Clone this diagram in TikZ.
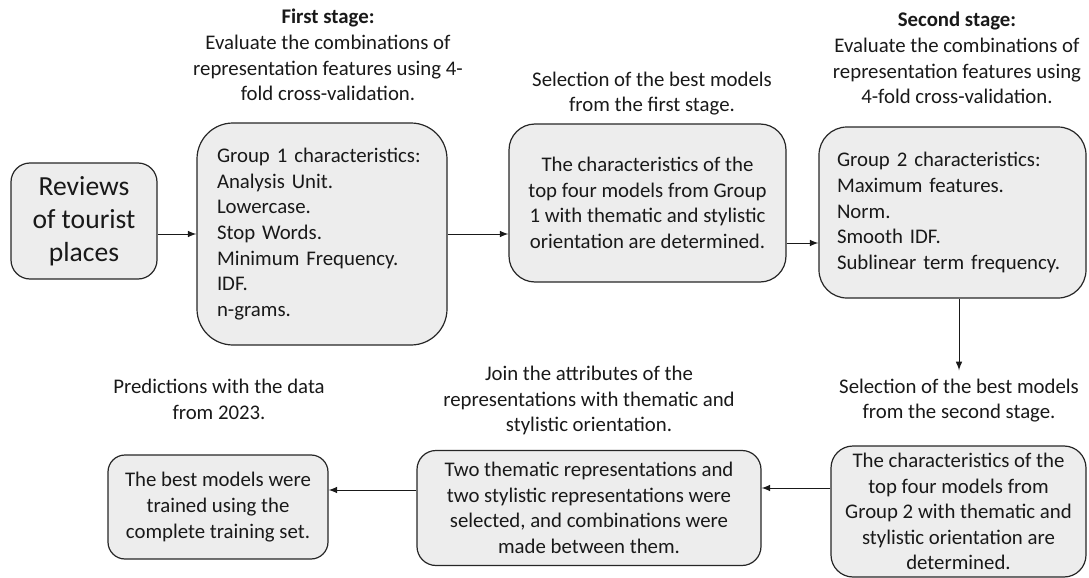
\documentclass[tikz,border=0pt]{standalone}
\usepackage{fontspec}
\setmainfont{Carlito}
\usetikzlibrary{arrows}
\usetikzlibrary{calc}
\usetikzlibrary{positioning}

\begin{document}
\begin{tikzpicture}
	 [> = latex,
	x=0.5pt, y=-0.5pt,
	every node/.style={font=\fontsize{10.4}{12.8}\selectfont, text=black!90},
	box/.style = {draw=black!85, fill=black!7, line width=0.6pt, inner sep=0pt},
	note/.style = {align=center, inner sep=0pt},
	link/.style = {->, line width=0.5pt, draw=black!90}
	]
	\useasboundingbox (0,0) rectangle (1089,578);

	\node[box, rounded corners=9.5pt, minimum width=73pt, minimum height=58pt, align=center, font=\fontsize{13.8}{16.5}\selectfont] (reviews) at (84,221) {Reviews\\of tourist\\places};
	\node[box, rounded corners=18pt, text width=105pt, inner xsep=10pt, minimum height=111pt, align=left] (group1) at (322,234) {Group 1 characteristics:\\Analysis Unit.\\Lowercase.\\Stop Words.\\Minimum Frequency.\\IDF.\\n-grams.};
	\node[box, rounded corners=13pt, minimum width=138.5pt, minimum height=79pt, align=center] (best1) at (647.5,203) {The characteristics of the\\top four models from Group\\1 with thematic and stylistic\\orientation are determined.};
	\node[box, rounded corners=14pt, text width=115.5pt, inner xsep=9pt, minimum height=85.5pt, align=left] (group2) at (952.5,212.5) {Group 2 characteristics:\\Maximum features.\\Norm.\\Smooth IDF.\\Sublinear term frequency.};
	\node[box, rounded corners=11pt, minimum width=127.5pt, minimum height=65.5pt, align=center] (best2) at (958.5,511.5) {The characteristics of the\\top four models from\\Group 2 with thematic and\\stylistic orientation are\\determined.};
	\node[box, rounded corners=9.5pt, minimum width=172pt, minimum height=57.5pt, align=center] (combo) at (589,508) {Two thematic representations and\\two stylistic representations were\\selected, and combinations were\\made between them.};
	\node[box, rounded corners=8.5pt, minimum width=110pt, minimum height=52pt, align=center] (final) at (218,507) {The best models were\\trained using the\\complete training set.};

	\node[note] (stage1) at (328,55) {\textbf{First stage:}\\Evaluate the combinations of\\representation features using 4-\\fold cross-validation.};
	\node[note] (select1) at (652,93.5) {Selection of the best models\\from the first stage.};
	\node[note] (stage2) at (957,58) {\textbf{Second stage:}\\Evaluate the combinations of\\representation features using\\4-fold cross-validation.};
	\node[note] (select2) at (959,400.5) {Selection of the best models\\from the second stage.};
	\node[note] (join) at (589,400.5) {Join the attributes of the\\representations with thematic and\\stylistic orientation.};
	\node[note] (predict) at (219,399.5) {Predictions with the data\\from 2023.};

	\coordinate (cd) at ($(best1.east)+(0,40)$);
	\coordinate (ef) at ($(best2.west)+(0,-23.5)$);
	\coordinate (fg) at ($(combo.west)+(0,-18)$);

	\draw[link] (reviews.east |- group1.west) -- (group1.west);
	\draw[link] (group1.east) -- (group1.east -| best1.west);
	\draw[link] (cd) -- (cd -| group2.west);
	\draw[link, shorten >=4pt] (group2.south -| select2.north) -- (select2.north);
	\draw[link] (ef) -- (ef -| combo.east);
	\draw[link] (fg) -- (fg -| final.east);
\end{tikzpicture}
\end{document}
